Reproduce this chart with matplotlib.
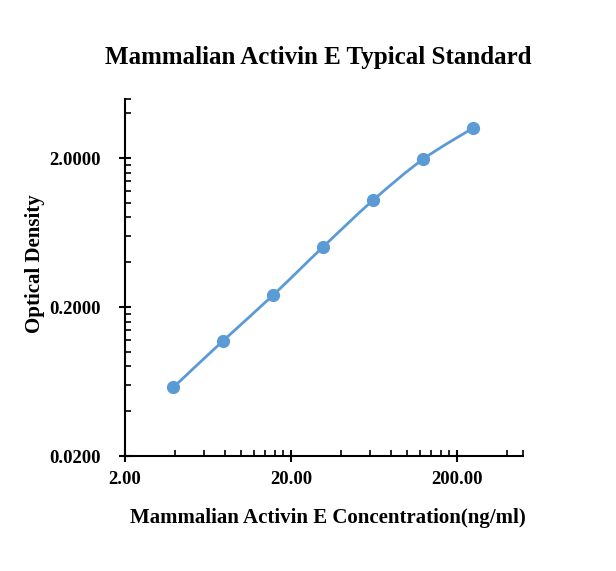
import numpy as np
import matplotlib
matplotlib.use("Agg")
import matplotlib.pyplot as plt
from matplotlib.path import Path
from matplotlib.patches import PathPatch
from matplotlib.ticker import FixedLocator, FormatStrFormatter, NullFormatter

# standard curve readings
conc = [3.91, 7.81, 15.63, 31.25, 62.5, 125.0, 250.0]
od = [0.0578, 0.119, 0.241, 0.508, 1.045, 1.97, 3.19]

xticks = [2, 20, 200]
yticks = [0.02, 0.2, 2.0]
xminor = [k * 2 for k in range(2, 10)] + [k * 20 for k in range(2, 10)] + [400, 500]
yminor = [k * 0.02 for k in range(2, 10)] + [k * 0.2 for k in range(2, 10)] + [4.0, 5.0]

title = "Mammalian Activin E Typical Standard"
xlabel = "Mammalian Activin E Concentration(ng/ml)"
ylabel = "Optical Density"

blue = "#5B9BD5"
plt.rcParams["font.family"] = ["Liberation Serif", "DejaVu Serif"]
plt.rcParams["font.weight"] = "bold"

fig = plt.figure(figsize=(6.16, 5.71), dpi=100)
ax = fig.add_axes([0.2029, 0.2014, 0.849 - 0.2029, 0.8266 - 0.2014])
ax.set_xscale("log")
ax.set_yscale("log")
ax.set_xlim(2, 500)
ax.set_ylim(0.02, 5)

# smoothed line like the spreadsheet: cubic bezier through the points in log space
lx = np.log10(conc)
ly = np.log10(od)
n = len(lx)
verts = [(lx[0], ly[0])]
codes = [Path.MOVETO]
t = 1.0 / 6.0
for i in range(n - 1):
    p0 = (lx[max(i - 1, 0)], ly[max(i - 1, 0)])
    p1 = (lx[i], ly[i])
    p2 = (lx[i + 1], ly[i + 1])
    p3 = (lx[min(i + 2, n - 1)], ly[min(i + 2, n - 1)])
    c1 = (p1[0] + (p2[0] - p0[0]) * t, p1[1] + (p2[1] - p0[1]) * t)
    c2 = (p2[0] - (p3[0] - p1[0]) * t, p2[1] - (p3[1] - p1[1]) * t)
    verts += [c1, c2, p2]
    codes += [Path.CURVE4] * 3
verts = [(10 ** a, 10 ** b) for a, b in verts]
ax.add_patch(PathPatch(Path(verts, codes), fill=False, edgecolor=blue, lw=2.0,
                       capstyle="round", zorder=2))
ax.plot(conc, od, "o", color=blue, markersize=8.5, zorder=3)

ax.xaxis.set_major_locator(FixedLocator(xticks))
ax.yaxis.set_major_locator(FixedLocator(yticks))
ax.xaxis.set_minor_locator(FixedLocator(xminor))
ax.yaxis.set_minor_locator(FixedLocator(yminor))
ax.xaxis.set_major_formatter(FormatStrFormatter("%.2f"))
ax.yaxis.set_major_formatter(FormatStrFormatter("%.4f"))
ax.xaxis.set_minor_formatter(NullFormatter())
ax.yaxis.set_minor_formatter(NullFormatter())

for s in ["top", "right"]:
    ax.spines[s].set_visible(False)
for s in ["left", "bottom"]:
    ax.spines[s].set_linewidth(1.5)
ax.tick_params(which="major", direction="inout", length=9, width=1.5, labelsize=13.5)
ax.tick_params(axis="x", which="major", pad=6)
ax.tick_params(axis="y", which="major", pad=13)
ax.tick_params(which="minor", direction="in", length=4, width=1.2)
for lab in ax.get_xticklabels() + ax.get_yticklabels():
    lab.set_fontweight("bold")

ax.set_title(title, fontsize=18, fontweight="bold", pad=25, x=0.486)
ax.set_xlabel(xlabel, fontsize=15, fontweight="bold", labelpad=14)
ax.xaxis.set_label_coords(0.51, -0.145)
ax.set_ylabel(ylabel, fontsize=15, fontweight="bold")
ax.yaxis.set_label_coords(-0.2, 0.54)

fig.savefig("out.png", dpi=100)
